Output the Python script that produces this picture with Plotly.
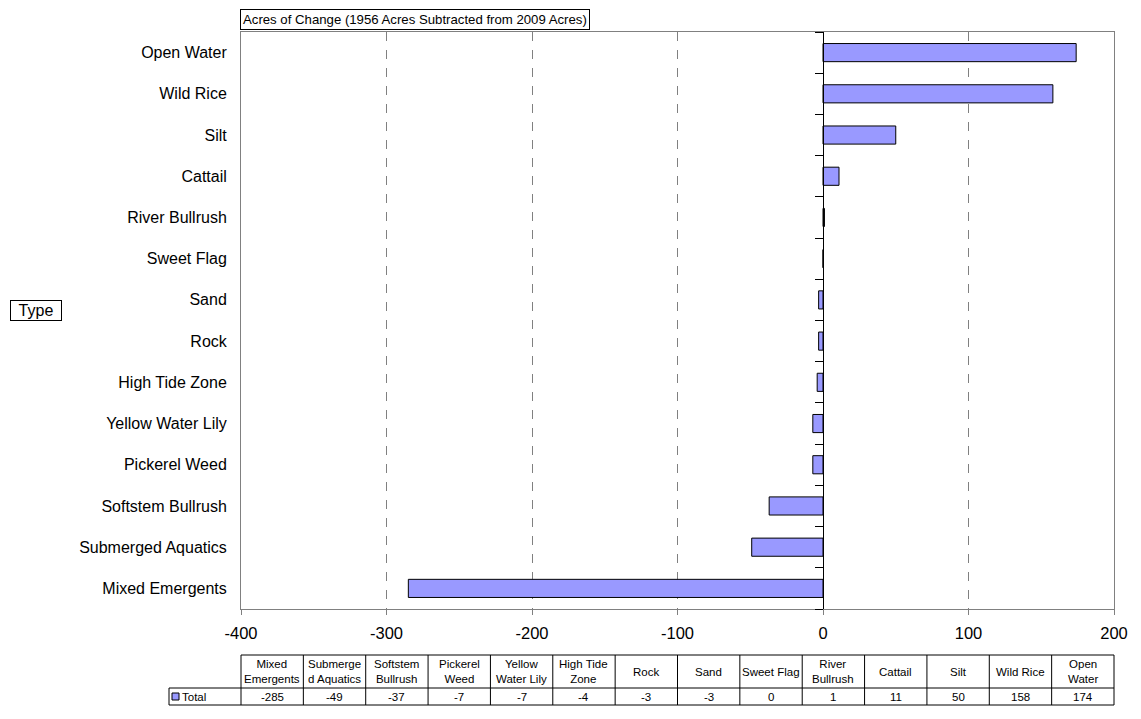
import plotly.graph_objects as go

# ---------------- data ----------------
categories = ["Mixed Emergents", "Submerged Aquatics", "Softstem Bullrush", "Pickerel Weed",
              "Yellow Water Lily", "High Tide Zone", "Rock", "Sand", "Sweet Flag",
              "River Bullrush", "Cattail", "Silt", "Wild Rice", "Open Water"]
values = [-285, -49, -37, -7, -7, -4, -3, -3, 0, 1, 11, 50, 158, 174]
table_labels = ["Mixed<br>Emergents", "Submerge<br>d Aquatics", "Softstem<br>Bullrush",
                "Pickerel<br>Weed", "Yellow<br>Water Lily", "High Tide<br>Zone", "Rock", "Sand",
                "Sweet Flag", "River<br>Bullrush", "Cattail", "Silt", "Wild Rice", "Open<br>Water"]
x_ticks = [-400, -300, -200, -100, 0, 100, 200]
series_name = "Total"
title_text = "Acres of Change (1956 Acres Subtracted from 2009 Acres)"
y_title = "Type"

# ---------------- layout helpers ----------------
OFF = 8                      # page body margin
W, H = 1141 - OFF, 719 - OFF
PL, PR, PT, PB = 241, 1114, 32, 609   # plot area in screen pixels
L, T = PL - OFF, PT - OFF
R, B = W - (PR - OFF), H - (PB - OFF)
pw = PR - PL
ph = PB - PT


def px(X):
    return (X - PL) / pw


def py(Y):
    return (PB - Y) / ph


FONT = "Liberation Sans, Arial, sans-serif"
BAR = "#9999FF"
GREY = "#808080"
n = len(categories)
idx = list(range(n))

fig = go.Figure()
fig.add_bar(x=values, y=idx, orientation="h", width=0.44, name=series_name,
            marker=dict(color=BAR, line=dict(color="black", width=1)), showlegend=False)
# transparent copy so that the category axis crossing at zero is drawn
fig.add_bar(x=values, y=idx, orientation="h", width=0.44, yaxis="y2", hoverinfo="skip",
            marker=dict(color="rgba(0,0,0,0)", line=dict(width=0)), showlegend=False)

xmin, xmax = x_ticks[0], x_ticks[-1]

fig.update_layout(
    width=W, height=H,
    margin=dict(l=L, r=R, t=T, b=B, pad=0),
    paper_bgcolor="white", plot_bgcolor="white",
    font=dict(family=FONT, color="black"),
    barmode="overlay",
    xaxis=dict(range=[xmin, xmax], tickvals=x_ticks, ticktext=[str(v) for v in x_ticks],
               ticks="outside", ticklen=5, ticklabelstandoff=4,
               tickcolor=GREY, showgrid=True, gridcolor=GREY, griddash="dash", gridwidth=1,
               zeroline=True, zerolinecolor="black", zerolinewidth=1,
               showline=True, linecolor=GREY, mirror=True, linewidth=1,
               tickfont=dict(size=16.5, family=FONT, color="black")),
    yaxis=dict(range=[-0.5, n - 0.5], tickvals=idx, ticktext=categories, ticks="",
               showgrid=False, zeroline=False, showline=True, linecolor=GREY, mirror=True,
               linewidth=1, ticklabelstandoff=10,
               tickfont=dict(size=16, family=FONT, color="black")),
    yaxis2=dict(overlaying="y", anchor="free", position=(0 - xmin) / (xmax - xmin),
                range=[-0.5, n - 0.5], tickvals=[i - 0.5 for i in range(n + 1)],
                showticklabels=False, ticks="outside", ticklen=8, tickcolor="black",
                showline=True, linecolor="black", linewidth=1, showgrid=False, zeroline=False),
)

shapes = []
annotations = []

# title box
annotations.append(dict(text=title_text, xref="paper", yref="paper", x=px(240), y=py(19.5),
                        xanchor="left", yanchor="middle", showarrow=False,
                        font=dict(size=13.2, family=FONT, color="black"),
                        bordercolor="black", borderwidth=1, borderpad=2, bgcolor="white"))
# axis title box
annotations.append(dict(text=y_title, xref="paper", yref="paper", x=px(10), y=py(310.5),
                        xanchor="left", yanchor="middle", showarrow=False, width=50, height=19,
                        align="center",
                        font=dict(size=16, family=FONT, color="black"),
                        bordercolor="black", borderwidth=1, borderpad=0, bgcolor="white"))

# data table
top, mid, bot = py(655), py(688), py(705)
leg_left = px(169)
line = dict(color="black", width=1)
shapes.append(dict(type="line", xref="paper", yref="paper", x0=0, x1=1, y0=top, y1=top, line=line))
shapes.append(dict(type="line", xref="paper", yref="paper", x0=leg_left, x1=1, y0=mid, y1=mid, line=line))
shapes.append(dict(type="line", xref="paper", yref="paper", x0=leg_left, x1=1, y0=bot, y1=bot, line=line))
shapes.append(dict(type="line", xref="paper", yref="paper", x0=leg_left, x1=leg_left, y0=mid, y1=bot, line=line))
for i in range(n + 1):
    xx = i / n
    shapes.append(dict(type="line", xref="paper", yref="paper", x0=xx, x1=xx, y0=top, y1=bot, line=line))
for i in range(n):
    xc = (i + 0.5) / n
    annotations.append(dict(text=table_labels[i], xref="paper", yref="paper", x=xc, y=(top + mid) / 2,
                            xanchor="center", yanchor="middle", showarrow=False,
                            font=dict(size=11.5, family=FONT, color="black")))
    annotations.append(dict(text=str(values[i]), xref="paper", yref="paper", x=xc, y=(mid + bot) / 2,
                            xanchor="center", yanchor="middle", showarrow=False,
                            font=dict(size=11.5, family=FONT, color="black")))
# legend key
shapes.append(dict(type="rect", xref="paper", yref="paper", x0=px(172), x1=px(179),
                   y0=py(700), y1=py(693), fillcolor=BAR, line=dict(color="black", width=1)))
annotations.append(dict(text=series_name, xref="paper", yref="paper", x=px(180), y=(mid + bot) / 2,
                        xanchor="left", yanchor="middle", showarrow=False,
                        font=dict(size=11.5, family=FONT, color="black")))

fig.update_layout(shapes=shapes, annotations=annotations)
fig.write_html("out.html")
